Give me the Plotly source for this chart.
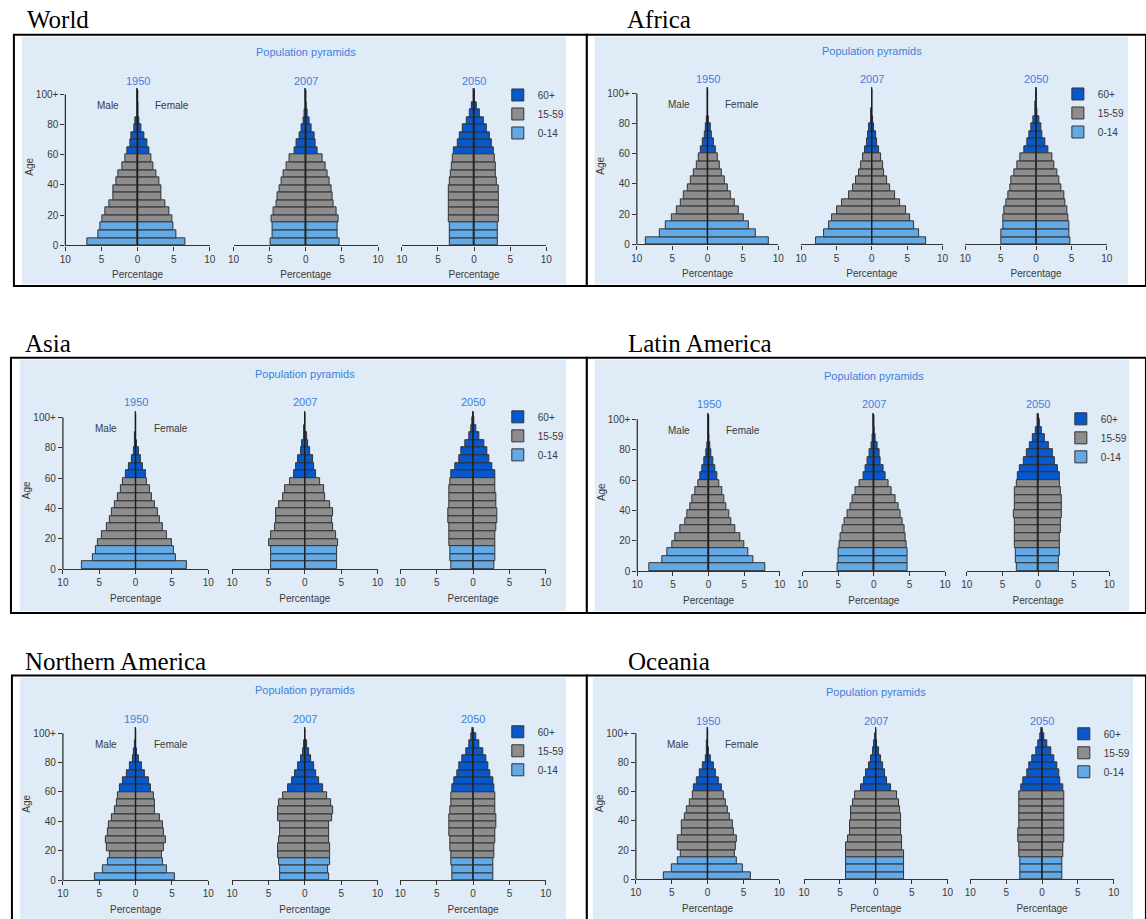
import plotly.graph_objects as go

W, H = 1146, 919

# ---------------- data ----------------
AGE_GROUPS = ["0-4", "5-9", "10-14", "15-19", "20-24", "25-29", "30-34", "35-39", "40-44",
              "45-49", "50-54", "55-59", "60-64", "65-69", "70-74", "75-79", "80-84",
              "85-89", "90-94", "95-99", "100+"]
AGE_MIDS = [2.5 + 5 * i for i in range(len(AGE_GROUPS))]
AGE_TICKS = [0, 20, 40, 60, 80, 100]
AGE_TICK_TEXT = ["0", "20", "40", "60", "80", "100+"]
PCT_TICKS = [-10, -5, 0, 5, 10]
PCT_TICK_TEXT = ["10", "5", "0", "5", "10"]
YEARS = ["1950", "2007", "2050"]
REGIONS = ["World", "Africa", "Asia", "Latin America", "Northern America", "Oceania"]
BROAD_GROUPS = ["60+", "15-59", "0-14"]
BROAD_RANGE = {"0-14": (0, 3), "15-59": (3, 12), "60+": (12, 21)}

WORLD_1950_M = [6.9, 5.5, 5.2, 4.9, 4.5, 3.9, 3.3, 3.3, 2.9, 2.6, 2.1, 1.65, 1.4, 1.05, 0.8, 0.45, 0.3, 0.1, 0.03, 0.01, 0.0]
WORLD_1950_F = [6.6, 5.3, 5.0, 4.75, 4.45, 3.9, 3.3, 3.3, 3.0, 2.6, 2.2, 1.9, 1.6, 1.35, 1.0, 0.55, 0.3, 0.14, 0.04, 0.01, 0.0]
WORLD_2007_M = [4.9, 4.65, 4.65, 4.7, 4.5, 4.0, 3.85, 3.65, 3.4, 3.05, 2.7, 2.3, 1.55, 1.25, 0.9, 0.55, 0.3, 0.15, 0.05, 0.02, 0.0]
WORLD_2007_F = [4.7, 4.4, 4.4, 4.55, 4.3, 3.9, 3.75, 3.6, 3.35, 2.95, 2.7, 2.35, 1.6, 1.3, 1.15, 0.85, 0.55, 0.3, 0.1, 0.03, 0.01]
WORLD_2050_M = [3.4, 3.4, 3.4, 3.5, 3.5, 3.5, 3.5, 3.5, 3.3, 3.15, 3.05, 2.9, 2.8, 2.3, 1.95, 1.55, 1.05, 0.6, 0.25, 0.1, 0.02]
WORLD_2050_F = [3.3, 3.3, 3.3, 3.4, 3.4, 3.4, 3.4, 3.4, 3.15, 3.05, 3.0, 2.9, 2.8, 2.45, 2.15, 1.8, 1.4, 0.85, 0.45, 0.15, 0.04]

AFRICA_1950_M = [8.7, 6.8, 5.85, 5.1, 4.4, 3.8, 3.3, 2.8, 2.35, 1.95, 1.55, 1.25, 0.9, 0.65, 0.45, 0.3, 0.1, 0.03, 0.01, 0.0, 0.0]
AFRICA_1950_F = [8.65, 6.75, 5.85, 5.15, 4.45, 3.85, 3.35, 2.85, 2.45, 2.05, 1.75, 1.45, 1.15, 0.85, 0.62, 0.4, 0.15, 0.05, 0.01, 0.0, 0.0]
AFRICA_2007_M = [7.95, 6.8, 6.05, 5.65, 4.9, 4.15, 3.25, 2.65, 2.2, 1.8, 1.55, 1.25, 0.95, 0.72, 0.5, 0.32, 0.15, 0.05, 0.02, 0.0, 0.0]
AFRICA_2007_F = [7.6, 6.65, 6.0, 5.45, 4.82, 3.98, 3.22, 2.52, 2.1, 1.8, 1.58, 1.3, 1.0, 0.78, 0.58, 0.38, 0.2, 0.08, 0.02, 0.0, 0.0]
AFRICA_2050_M = [4.85, 4.85, 4.7, 4.6, 4.45, 4.15, 3.95, 3.7, 3.45, 3.05, 2.65, 2.25, 1.65, 1.25, 0.9, 0.62, 0.35, 0.15, 0.05, 0.01, 0.0]
AFRICA_2050_F = [4.85, 4.7, 4.7, 4.6, 4.45, 4.2, 3.95, 3.6, 3.25, 2.95, 2.6, 2.25, 1.7, 1.35, 0.95, 0.7, 0.42, 0.18, 0.06, 0.01, 0.0]

ASIA_1950_M = [7.45, 5.85, 5.5, 5.2, 4.6, 4.0, 3.5, 3.2, 2.8, 2.45, 2.0, 1.7, 1.35, 0.9, 0.5, 0.3, 0.12, 0.04, 0.01, 0.0, 0.0]
ASIA_1950_F = [7.1, 5.55, 5.25, 4.95, 4.35, 3.75, 3.35, 3.0, 2.6, 2.3, 1.9, 1.6, 1.45, 1.05, 0.75, 0.45, 0.18, 0.06, 0.02, 0.0, 0.0]
ASIA_2007_M = [4.6, 4.6, 4.6, 4.9, 4.6, 4.05, 3.95, 3.9, 3.55, 3.0, 2.7, 2.05, 1.5, 1.2, 0.9, 0.58, 0.32, 0.15, 0.05, 0.01, 0.0]
ASIA_2007_F = [4.4, 4.4, 4.45, 4.55, 4.35, 3.9, 3.8, 3.85, 3.5, 2.85, 2.6, 2.05, 1.55, 1.32, 1.1, 0.75, 0.45, 0.25, 0.1, 0.02, 0.0]
ASIA_2050_M = [3.0, 3.15, 3.15, 3.2, 3.2, 3.25, 3.4, 3.45, 3.3, 3.2, 3.2, 3.15, 3.05, 2.5, 1.95, 1.6, 1.0, 0.5, 0.25, 0.08, 0.02]
ASIA_2050_F = [2.9, 3.05, 3.05, 3.05, 3.1, 3.15, 3.3, 3.35, 3.2, 3.15, 3.1, 3.05, 3.1, 2.65, 2.25, 1.95, 1.5, 0.85, 0.4, 0.15, 0.04]

LATAM_1950_M = [8.3, 6.55, 5.8, 5.05, 4.6, 3.9, 3.3, 2.95, 2.55, 2.25, 1.9, 1.5, 1.17, 0.92, 0.55, 0.37, 0.15, 0.06, 0.02, 0.0, 0.0]
LATAM_1950_F = [8.0, 6.35, 5.55, 4.95, 4.4, 3.8, 3.15, 2.85, 2.5, 2.15, 1.9, 1.5, 1.2, 1.0, 0.68, 0.4, 0.2, 0.1, 0.03, 0.01, 0.0]
LATAM_2007_M = [5.15, 5.0, 4.9, 4.8, 4.6, 4.4, 4.1, 3.65, 3.3, 2.95, 2.5, 2.05, 1.5, 1.15, 0.85, 0.6, 0.35, 0.18, 0.06, 0.02, 0.0]
LATAM_2007_F = [4.8, 4.7, 4.7, 4.65, 4.5, 4.35, 4.05, 3.75, 3.45, 3.0, 2.55, 2.1, 1.7, 1.35, 1.0, 0.8, 0.55, 0.3, 0.12, 0.03, 0.0]
LATAM_2050_M = [2.95, 3.1, 3.1, 3.2, 3.2, 3.25, 3.3, 3.4, 3.3, 3.25, 3.2, 3.05, 2.85, 2.5, 2.05, 1.6, 1.15, 0.75, 0.35, 0.1, 0.02]
LATAM_2050_F = [2.9, 2.95, 3.0, 3.05, 3.1, 3.15, 3.25, 3.35, 3.35, 3.35, 3.25, 3.1, 3.0, 2.8, 2.35, 2.0, 1.55, 1.0, 0.52, 0.2, 0.05]

NAMER_1950_M = [5.6, 4.45, 3.75, 3.6, 3.9, 4.05, 3.8, 3.65, 3.3, 2.8, 2.62, 2.38, 2.12, 1.7, 1.15, 0.75, 0.4, 0.18, 0.05, 0.01, 0.0]
NAMER_1950_F = [5.4, 4.35, 3.7, 3.6, 3.85, 4.1, 3.9, 3.75, 3.4, 2.7, 2.7, 2.45, 2.12, 1.78, 1.3, 0.85, 0.5, 0.22, 0.08, 0.02, 0.0]
NAMER_2007_M = [3.38, 3.4, 3.58, 3.68, 3.68, 3.48, 3.4, 3.42, 3.7, 3.72, 3.5, 2.98, 2.3, 1.75, 1.3, 0.95, 0.55, 0.3, 0.12, 0.03, 0.01]
NAMER_2007_F = [3.4, 3.22, 3.42, 3.5, 3.5, 3.32, 3.32, 3.38, 3.78, 3.92, 3.62, 3.08, 2.48, 1.92, 1.58, 1.25, 0.92, 0.62, 0.3, 0.08, 0.02]
NAMER_2050_M = [2.85, 2.85, 2.92, 3.0, 3.1, 3.18, 3.28, 3.3, 3.3, 3.12, 3.05, 3.05, 2.88, 2.62, 2.12, 1.85, 1.42, 0.98, 0.52, 0.22, 0.05]
NAMER_2050_F = [2.78, 2.78, 2.78, 2.92, 2.98, 3.0, 3.05, 3.18, 3.18, 3.05, 3.02, 3.0, 2.92, 2.75, 2.42, 2.12, 1.8, 1.42, 0.88, 0.4, 0.1]

OCEANIA_1950_M = [6.15, 4.95, 4.15, 3.72, 4.12, 4.15, 3.62, 3.6, 3.2, 2.85, 2.42, 2.1, 1.88, 1.5, 1.12, 0.65, 0.3, 0.12, 0.04, 0.01, 0.0]
OCEANIA_1950_F = [5.98, 4.85, 4.05, 3.75, 3.9, 4.02, 3.62, 3.48, 3.15, 2.78, 2.55, 2.28, 1.98, 1.6, 1.22, 0.85, 0.48, 0.2, 0.07, 0.02, 0.0]
OCEANIA_2007_M = [4.2, 4.2, 4.2, 4.12, 4.08, 3.85, 3.65, 3.55, 3.5, 3.4, 3.15, 2.9, 2.1, 1.68, 1.32, 0.95, 0.68, 0.42, 0.2, 0.05, 0.01]
OCEANIA_2007_F = [3.92, 3.92, 3.95, 3.88, 3.72, 3.6, 3.55, 3.58, 3.5, 3.4, 3.2, 3.02, 2.08, 1.62, 1.32, 1.0, 0.72, 0.42, 0.22, 0.08, 0.02]
OCEANIA_2050_M = [3.02, 3.02, 3.02, 3.18, 3.22, 3.32, 3.35, 3.22, 3.18, 3.18, 3.18, 3.18, 2.88, 2.55, 2.05, 1.8, 1.35, 0.85, 0.52, 0.22, 0.05]
OCEANIA_2050_F = [2.85, 2.85, 2.85, 2.98, 3.02, 3.15, 3.15, 3.05, 3.05, 3.05, 3.05, 3.05, 2.9, 2.58, 2.38, 2.08, 1.68, 1.3, 0.72, 0.3, 0.08]

DATA = {
    ("World", "1950"): (WORLD_1950_M, WORLD_1950_F),
    ("World", "2007"): (WORLD_2007_M, WORLD_2007_F),
    ("World", "2050"): (WORLD_2050_M, WORLD_2050_F),
    ("Africa", "1950"): (AFRICA_1950_M, AFRICA_1950_F),
    ("Africa", "2007"): (AFRICA_2007_M, AFRICA_2007_F),
    ("Africa", "2050"): (AFRICA_2050_M, AFRICA_2050_F),
    ("Asia", "1950"): (ASIA_1950_M, ASIA_1950_F),
    ("Asia", "2007"): (ASIA_2007_M, ASIA_2007_F),
    ("Asia", "2050"): (ASIA_2050_M, ASIA_2050_F),
    ("Latin America", "1950"): (LATAM_1950_M, LATAM_1950_F),
    ("Latin America", "2007"): (LATAM_2007_M, LATAM_2007_F),
    ("Latin America", "2050"): (LATAM_2050_M, LATAM_2050_F),
    ("Northern America", "1950"): (NAMER_1950_M, NAMER_1950_F),
    ("Northern America", "2007"): (NAMER_2007_M, NAMER_2007_F),
    ("Northern America", "2050"): (NAMER_2050_M, NAMER_2050_F),
    ("Oceania", "1950"): (OCEANIA_1950_M, OCEANIA_1950_F),
    ("Oceania", "2007"): (OCEANIA_2007_M, OCEANIA_2007_F),
    ("Oceania", "2050"): (OCEANIA_2050_M, OCEANIA_2050_F),
}

# ---------------- styling / geometry (pixels) ----------------
COLORS = {"60+": "#0758cc", "15-59": "#8d8d8d", "0-14": "#62a9e6"}
OUTLINE = "#333333"
BG = "#dfebf7"
BLUE_TXT = "#3f7fd9"
GRAY_TXT = "#3a3a3a"
NARROW = "Liberation Sans Narrow, Arial Narrow, Liberation Sans, Arial, sans-serif"
SERIF = "Liberation Serif, Times New Roman, serif"

GEOM = {
    "World": dict(title=(19, 20), box=(8, 35, 587, 288), bg=(16, 37, 566, 286),
                  centers=[133, 303, 473], half=73, y0=247, ppy=1.52, pp_y=52, year_y=82, legend=(497, 81)),
    "Africa": dict(title=(626, 20), box=(587, 35, 1152, 288), bg=(595, 37, 1134, 286),
                   centers=[709, 875, 1041], half=71.5, y0=246, ppy=1.52, pp_y=51, year_y=80, legend=(1063, 80)),
    "Asia": dict(title=(17, 346), box=(5, 360, 587, 617), bg=(14, 362, 566, 615),
                 centers=[131, 302, 472], half=73.5, y0=573, ppy=1.53, pp_y=376, year_y=405, legend=(497, 405)),
    "Latin America": dict(title=(627, 346), box=(587, 360, 1152, 617), bg=(595, 362, 1135, 615),
                          centers=[710, 877, 1043], half=72, y0=575, ppy=1.53, pp_y=378, year_y=407, legend=(1066, 407)),
    "Northern America": dict(title=(17, 666), box=(6, 680, 587, 935), bg=(14, 682, 566, 935),
                             centers=[131, 302, 472], half=73.5, y0=886, ppy=1.48, pp_y=695, year_y=724, legend=(497, 722)),
    "Oceania": dict(title=(627, 666), box=(587, 680, 1152, 935), bg=(593, 682, 1139, 935),
                    centers=[709, 879, 1047], half=72.5, y0=885, ppy=1.47, pp_y=697, year_y=726, legend=(1069, 724)),
}
Y_TOP = 104  # age units shown above 0


def fx(x):
    return x / W


def fy(y):
    return 1 - y / H


fig = go.Figure()
shapes, annotations, layout_extra = [], [], {}

for p, region in enumerate(REGIONS):
    g = GEOM[region]
    bx0, by0, bx1, by1 = g["box"]
    shapes.append(dict(type="rect", xref="paper", yref="paper", layer="below",
                       x0=fx(bx0), x1=fx(bx1), y0=fy(by1), y1=fy(by0),
                       line=dict(color="black", width=2), fillcolor="white"))
    gx0, gy0, gx1, gy1 = g["bg"]
    shapes.append(dict(type="rect", xref="paper", yref="paper", layer="below",
                       x0=fx(gx0), x1=fx(gx1), y0=fy(gy1), y1=fy(gy0),
                       line=dict(width=0), fillcolor=BG))
    annotations.append(dict(text=region, xref="paper", yref="paper", x=fx(g["title"][0]), y=fy(g["title"][1]),
                            xanchor="left", yanchor="middle", showarrow=False,
                            font=dict(family=SERIF, size=25, color="black")))

    legend_name = "legend" if p == 0 else f"legend{p + 1}"
    layout_extra[legend_name] = dict(
        x=fx(g["legend"][0]), y=fy(g["legend"][1]), xanchor="left", yanchor="top",
        bgcolor="rgba(0,0,0,0)", borderwidth=0, itemwidth=30, tracegroupgap=0,
        font=dict(family=NARROW, size=10, color=GRAY_TXT), itemclick=False, itemdoubleclick=False)

    for j, year in enumerate(YEARS):
        k = p * 3 + j + 1
        xa = "x" if k == 1 else f"x{k}"
        ya = "y" if k == 1 else f"y{k}"
        c = g["centers"][j]
        half = g["half"]
        y0 = g["y0"]
        ytop = y0 - Y_TOP * g["ppy"]
        male, female = DATA[(region, year)]

        for grp in BROAD_GROUPS:
            lo, hi = BROAD_RANGE[grp]
            idx = list(range(lo, hi))
            xs = [-male[i] for i in idx] + [female[i] for i in idx]
            ys = [AGE_MIDS[i] for i in idx] * 2
            labels = [f"Male {AGE_GROUPS[i]}" for i in idx] + [f"Female {AGE_GROUPS[i]}" for i in idx]
            fig.add_trace(go.Bar(
                x=xs, y=ys, orientation="h", width=5, name=grp,
                marker=dict(color=COLORS[grp], line=dict(color=OUTLINE, width=1)),
                customdata=labels,
                hovertemplate="%{customdata}: %{x:.2f}%<extra>" + f"{region} {year}" + "</extra>",
                legend=legend_name, legendgroup=f"{region}-{grp}", showlegend=(j == 0),
                xaxis=xa, yaxis=ya))
        fig.add_trace(go.Scatter(x=[0, 0], y=[0, 103], mode="lines",
                                 line=dict(color="#1a1a1a", width=1.2),
                                 showlegend=False, hoverinfo="skip", xaxis=xa, yaxis=ya))

        xkey = "xaxis" if k == 1 else f"xaxis{k}"
        ykey = "yaxis" if k == 1 else f"yaxis{k}"
        layout_extra[xkey] = dict(
            domain=[fx(c - half), fx(c + half)], range=[-10, 10], anchor=ya,
            tickvals=PCT_TICKS, ticktext=PCT_TICK_TEXT, ticks="outside", ticklen=4,
            tickcolor="#333", showline=True, linecolor="#333", linewidth=1.3,
            showgrid=False, zeroline=False, fixedrange=True,
            tickfont=dict(family=NARROW, size=10, color=GRAY_TXT),
            title=dict(text="Percentage", standoff=7, font=dict(family=NARROW, size=10, color=GRAY_TXT)))
        layout_extra[ykey] = dict(
            domain=[fy(y0), fy(ytop)], range=[0, Y_TOP], anchor=xa,
            showgrid=False, zeroline=False, showline=False, fixedrange=True,
            visible=(j == 0),
            tickvals=AGE_TICKS, ticktext=AGE_TICK_TEXT, ticks="outside", ticklen=4, tickcolor="#333",
            tickfont=dict(family=NARROW, size=10, color=GRAY_TXT),
            title=dict(text="Age" if j == 0 else "", standoff=0, font=dict(family=NARROW, size=10, color=GRAY_TXT)))

        if j == 0:
            # left y-axis line from 0 to 100+
            shapes.append(dict(type="line", xref="paper", yref="paper",
                               x0=fx(c - half), x1=fx(c - half),
                               y0=fy(y0), y1=fy(y0 - 100 * g["ppy"]),
                               line=dict(color="#333", width=1.3)))
            annotations.append(dict(text="Male", xref=xa, yref=ya, x=-4.1, y=92.5, showarrow=False,
                                    font=dict(family=NARROW, size=10, color=GRAY_TXT)))
            annotations.append(dict(text="Female", xref=xa, yref=ya, x=4.8, y=92.5, showarrow=False,
                                    font=dict(family=NARROW, size=10, color=GRAY_TXT)))
        if j == 1:
            annotations.append(dict(text="Population pyramids", xref=xa, yref="paper", x=0, y=fy(g["pp_y"]),
                                    yanchor="middle", showarrow=False,
                                    font=dict(family=NARROW, size=11, color=BLUE_TXT)))
        annotations.append(dict(text=year, xref=xa, yref="paper", x=0, y=fy(g["year_y"]),
                                yanchor="middle", showarrow=False,
                                font=dict(family=NARROW, size=11, color=BLUE_TXT)))

fig.update_layout(
    width=W, height=H, margin=dict(l=0, r=0, t=0, b=0),
    paper_bgcolor="white", plot_bgcolor="rgba(0,0,0,0)",
    barmode="overlay", bargap=0,
    shapes=shapes, annotations=annotations,
    **layout_extra,
)

fig.write_html("out.html", config={"displayModeBar": False},
               post_script="document.body.style.margin='0';document.body.style.overflow='hidden';")
